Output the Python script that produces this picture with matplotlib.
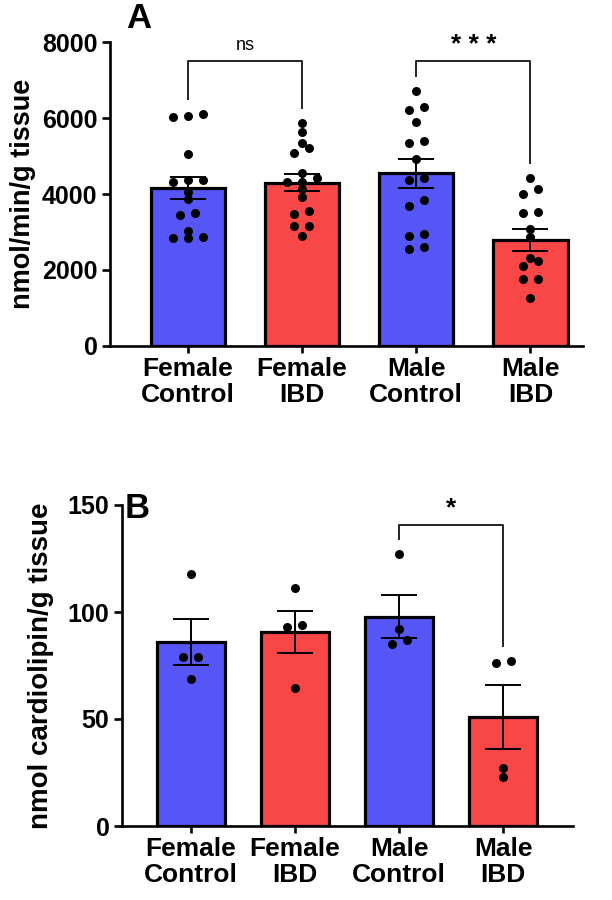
import numpy as np
import matplotlib
matplotlib.use("Agg")
import matplotlib.pyplot as plt

plt.rcParams['font.family'] = ['Liberation Sans', 'DejaVu Sans']

categories = ["Female\nControl", "Female\nIBD", "Male\nControl", "Male\nIBD"]

# Panel A: nmol/min/g tissue
a_female_control = [6050, 6100, 6020, 5050, 4370, 4310, 4370, 4050, 3870, 3450, 3500, 3030, 2840, 2870, 2840]
a_female_ibd = [5870, 5630, 5340, 5210, 5080, 4550, 4310, 4310, 4420, 4130, 3920, 3550, 3470, 3160, 3160, 2890]
a_male_control = [6710, 6210, 6290, 5890, 5340, 5390, 4920, 4370, 4420, 3680, 3840, 2890, 2950, 2550, 2600]
a_male_ibd = [4420, 4000, 4130, 3500, 3530, 3080, 2870, 2240, 2310, 2100, 1760, 1760, 1260]
a_means = [4160, 4300, 4540, 2800]
a_sem = [300, 220, 370, 290]
a_ticks = [0, 2000, 4000, 6000, 8000]
a_ylabel = "nmol/min/g tissue"
a_sig = [(0, 1, "ns"), (2, 3, "* * *")]

# Panel B: nmol cardiolipin/g tissue
b_female_control = [117.8, 79.0, 79.0, 68.7]
b_female_ibd = [111.2, 93.9, 93.0, 64.5]
b_male_control = [127.1, 92.0, 85.0, 87.0]
b_male_ibd = [76.2, 77.1, 27.1, 22.9]
b_means = [86.1, 90.6, 97.8, 50.8]
b_sem = [10.7, 9.9, 10.0, 15.0]
b_ticks = [0, 50, 100, 150]
b_ylabel = "nmol cardiolipin/g tissue"
b_sig = [(2, 3, "*")]

BLUE = "#5656F6"
RED = "#F94646"
colors = [BLUE, RED, BLUE, RED]

W, H = 612, 900
fig = plt.figure(figsize=(W / 100, H / 100), dpi=100)


def row_offsets(values, px_per_unit, px_per_x, row_tol=6.5, spacing=15.0):
    """Group points of similar height into rows and centre each row."""
    values = np.asarray(values, dtype=float)
    order = np.argsort(values)
    offs = np.zeros(len(values))
    rows = []
    for idx in order:
        y = values[idx] * px_per_unit
        if rows and y - rows[-1][0] < row_tol:
            rows[-1][1].append(idx)
        else:
            rows.append([y, [idx]])
    for _, members in rows:
        n = len(members)
        for k, idx in enumerate(members):
            offs[idx] = (k - (n - 1) / 2) * spacing / px_per_x
    return offs


def draw_panel(rect_px, groups, means, sems, ticks, ylabel, sig, xlim, ymax,
               bracket_top, text_gap, letter, letter_px, ylab_size, ylab_pad):
    left, right, top, bottom = rect_px
    ax = fig.add_axes([left / W, 1 - bottom / H, (right - left) / W, (bottom - top) / H])
    ax.set_xlim(*xlim)
    ax.set_ylim(0, ymax)
    x = np.arange(len(groups))
    ax.bar(x, means, width=0.65, color=colors, edgecolor="black", linewidth=2.3, zorder=2)
    px_per_unit = (bottom - top) / ymax
    px_per_x = (right - left) / (xlim[1] - xlim[0])
    for i, g in enumerate(groups):
        g = np.asarray(g, dtype=float)
        offs = row_offsets(g, px_per_unit, px_per_x)
        ax.scatter(x[i] + offs, g, s=42, color="black", zorder=4, linewidths=0)
    ax.errorbar(x, means, yerr=sems, fmt="none", ecolor="black", elinewidth=1.4,
                capsize=13, capthick=1.4, zorder=3)
    gap = 15 / px_per_unit
    for (i, j, lab) in sig:
        yi = max(groups[i]) + gap
        yj = max(groups[j]) + gap
        ax.plot([x[i], x[i], x[j], x[j]], [yi, bracket_top, bracket_top, yj],
                color="#222222", lw=1.4, zorder=3, clip_on=False)
        if lab == "ns":
            ax.text((x[i] + x[j]) / 2, bracket_top + text_gap, lab, ha="center", va="bottom",
                    fontsize=13, clip_on=False)
        else:
            ax.text((x[i] + x[j]) / 2, bracket_top + text_gap * 0.6, lab, ha="center",
                    va="bottom", fontsize=19, fontweight="bold", clip_on=False)
    for s in ["top", "right"]:
        ax.spines[s].set_visible(False)
    for s in ["left", "bottom"]:
        ax.spines[s].set_linewidth(1.9)
    ax.set_yticks(ticks)
    ax.set_yticklabels([str(t) for t in ticks], fontsize=18, fontweight="bold")
    ax.set_xticks(x)
    ax.set_xticklabels(categories, fontsize=19, fontweight="bold", linespacing=1.1)
    ax.tick_params(axis="y", length=6, width=1.9, pad=3)
    ax.tick_params(axis="x", length=5, width=1.9, pad=3)
    ax.set_ylabel(ylabel, fontsize=ylab_size, fontweight="bold", labelpad=ylab_pad)
    fig.text(letter_px[0] / W, 1 - letter_px[1] / H, letter, fontsize=25, fontweight="bold",
             ha="left", va="center")
    return ax


axA = draw_panel((110, 583, 42, 346),
                 [a_female_control, a_female_ibd, a_male_control, a_male_ibd],
                 a_means, a_sem, a_ticks, a_ylabel, a_sig, (-0.68, 3.46), 8000,
                 7500, 180, "A", (126, 18), 19.5, 4)

axB = draw_panel((122, 573, 505, 826),
                 [b_female_control, b_female_ibd, b_male_control, b_male_ibd],
                 b_means, b_sem, b_ticks, b_ylabel, b_sig, (-0.66, 3.67), 150,
                 140.7, 3.5, "B", (125, 508), 20, 10)

fig.savefig("out.png", dpi=100)
